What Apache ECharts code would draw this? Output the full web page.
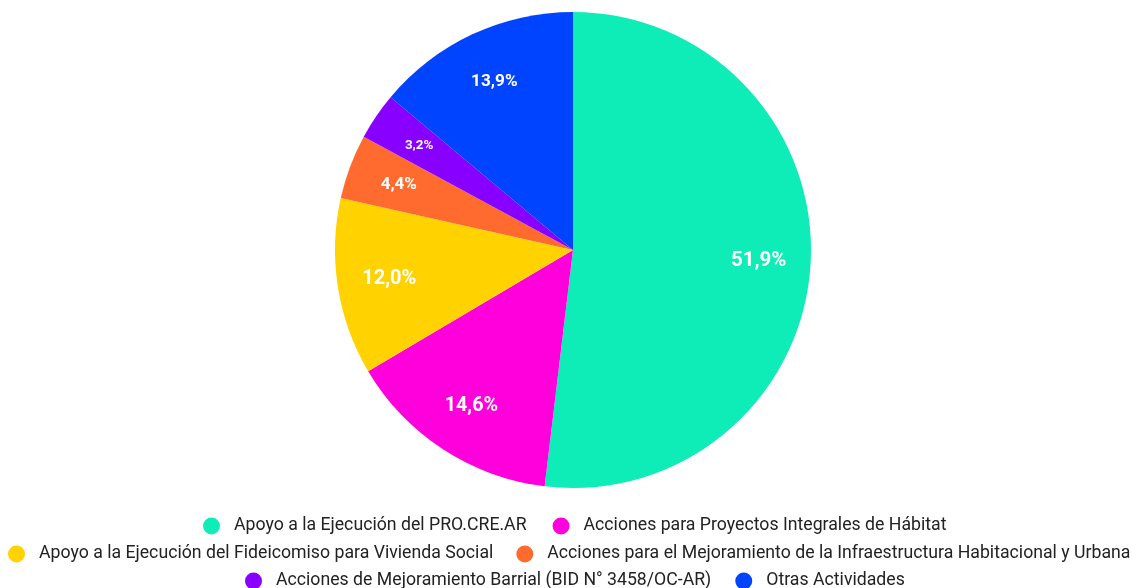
<!DOCTYPE html>
<html>
<head>
<meta charset="utf-8">
<script src="https://cdn.jsdelivr.net/npm/echarts@6/dist/echarts.min.js"></script>
<style>
html,body{margin:0;padding:0;background:#fff;}
#chart{width:1132px;height:588px;}
</style>
</head>
<body>
<div id="chart"></div>
<script>
const categories = [
  'Apoyo a la Ejecución del PRO.CRE.AR',
  'Acciones para Proyectos Integrales de Hábitat',
  'Apoyo a la Ejecución del Fideicomiso para Vivienda Social',
  'Acciones para el Mejoramiento de la Infraestructura Habitacional y Urbana',
  'Acciones de Mejoramiento Barrial (BID N° 3458/OC-AR)',
  'Otras Actividades'
];
const values = [51.9, 14.6, 12.0, 4.4, 3.2, 13.9];
const colors = ['#0EEDB8', '#FF00DD', '#FFD200', '#FF6B2E', '#8800FF', '#0044FF'];
const labelSizes = [20.5, 19.7, 20, 17, 13.4, 17.2];
const legendRows = [[0, 1], [2, 3], [4, 5]];

const fmt = v => v.toFixed(1).replace('.', ',') + '%';
const mainData = categories.map((c, i) => ({ name: c, value: values[i], itemStyle: { color: colors[i] } }));
const labelData = categories.map((c, i) => ({
  name: c, value: values[i],
  label: { fontSize: labelSizes[i] }
}));

const rowTops = [516, 544, 571];
const rowLefts = [203, 8, 245];
const rowGaps = [26, 23, 24];
const legends = legendRows.map((row, k) => ({
  data: row.map(i => categories[i]),
  left: rowLefts[k],
  top: rowTops[k],
  width: 1200,
  padding: 0,
  orient: 'horizontal',
  icon: 'circle',
  itemWidth: 17,
  itemHeight: 17,
  itemGap: rowGaps[k],
  selectedMode: false,
  textStyle: { fontFamily: 'Roboto', fontSize: 17.7, lineHeight: 20, color: '#222', padding: [0, 0, 0, 9] }
}));

const chart = echarts.init(document.getElementById('chart'), null, { renderer: 'canvas' });
chart.setOption({
  animation: false,
  legend: legends,
  series: [
    {
      type: 'pie',
      center: [573, 250],
      radius: [0, 238],
      startAngle: 90,
      clockwise: true,
      label: { show: false },
      labelLine: { show: false },
      data: mainData
    },
    {
      type: 'pie',
      center: [573, 250],
      radius: [128, 238],
      startAngle: 90,
      clockwise: true,
      silent: true,
      itemStyle: { color: 'rgba(0,0,0,0)' },
      label: {
        show: true,
        position: 'inside',
        color: '#fff',
        fontFamily: 'Roboto',
        fontWeight: 'bold',
        formatter: p => fmt(p.value)
      },
      labelLine: { show: false },
      data: labelData
    }
  ]
});
</script>
</body>
</html>
